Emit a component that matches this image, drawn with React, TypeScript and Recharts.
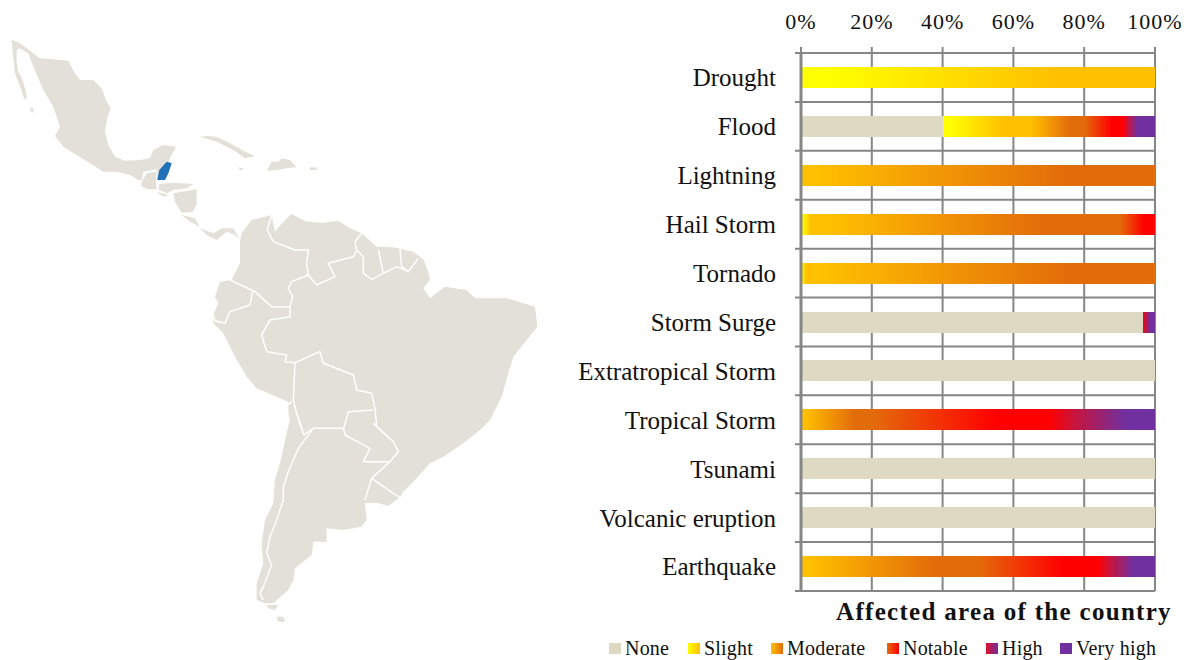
import {
  BarChart,
  Bar,
  XAxis,
  YAxis,
  CartesianGrid,
  ReferenceLine,
  Legend,
  Label,
} from "recharts";

const HAZARDS = [
  "Drought",
  "Flood",
  "Lightning",
  "Hail Storm",
  "Tornado",
  "Storm Surge",
  "Extratropical Storm",
  "Tropical Storm",
  "Tsunami",
  "Volcanic eruption",
  "Earthquake",
];

const NONE = [0, 40, 0, 0, 0, 96.5, 100, 0, 100, 100, 0];
const SLIGHT = [100, 24, 0, 4, 2, 0, 0, 0, 0, 0, 0];
const MODERATE = [0, 16, 100, 86, 98, 0, 0, 20, 0, 0, 50];
const NOTABLE = [0, 11, 0, 10, 0, 0, 0, 50, 0, 0, 34];
const HIGH = [0, 4.5, 0, 0, 0, 2.5, 0, 24, 0, 0, 11];
const VERY_HIGH = [0, 4.5, 0, 0, 0, 1, 0, 6, 0, 0, 5];

const PERCENT_TICKS = [0, 20, 40, 60, 80, 100];
const ROW_EDGES = [0, 1, 2, 3, 4, 5, 6, 7, 8, 9, 10, 11];

const data = HAZARDS.map((hazard, i) => ({
  hazard,
  edge: ROW_EDGES[i],
  none: NONE[i],
  slight: SLIGHT[i],
  moderate: MODERATE[i],
  notable: NOTABLE[i],
  high: HIGH[i],
  veryHigh: VERY_HIGH[i],
}));

const SERIF = "'Liberation Serif', serif";
const GRID = "#868686";
const LAND = "#e2e0d8";

// stops: [offset, colour]
const LEVELS: { key: string; name: string; stops: [string, string][]; swatch: string; slot: number }[] = [
  { key: "none", name: "None", stops: [["0%", "#ddd9c3"], ["100%", "#ddd9c3"]], swatch: "#ddd9c3", slot: 79 },
  {
    key: "slight",
    name: "Slight",
    stops: [["0%", "#ffff00"], ["8%", "#ffff00"], ["72%", "#ffc000"], ["100%", "#ffc000"]],
    swatch: "linear-gradient(90deg,#ffff00,#ffc000)",
    slot: 83,
  },
  {
    key: "moderate",
    name: "Moderate",
    stops: [["0%", "#ffc000"], ["5%", "#ffc000"], ["75%", "#e36c0a"], ["100%", "#e36c0a"]],
    swatch: "linear-gradient(90deg,#ffc000,#e36c0a)",
    slot: 116,
  },
  {
    key: "notable",
    name: "Notable",
    stops: [["0%", "#e36c0a"], ["70%", "#ff0000"], ["100%", "#ff0000"]],
    swatch: "linear-gradient(90deg,#e36c0a,#ff0000)",
    slot: 99,
  },
  {
    key: "high",
    name: "High",
    stops: [["0%", "#ff0000"], ["30%", "#c8143c"], ["90%", "#7030a0"], ["100%", "#7030a0"]],
    swatch: "linear-gradient(90deg,#dc1030,#7030a0)",
    slot: 74,
  },
  { key: "veryHigh", name: "Very high", stops: [["0%", "#7030a0"], ["100%", "#7030a0"]], swatch: "#7030a0", slot: 110 },
];

// map outlines, traced at 3x inside each group's transform
const MEXICO =
  "35,30 60,40 90,62 120,85 160,88 205,92 222,125 240,150 280,150 305,175 318,210 332,235 322,265 315,305 325,345 345,380 375,392 420,390 450,385 460,360 490,345 528,350 515,375 505,395 515,400 505,430 495,450 472,450 470,418 430,425 425,450 415,450 390,435 350,425 310,425 270,400 230,375 190,350 165,318 180,290 160,230 130,180 100,110 85,70 60,55 45,60";
const BAJA = "35,30 55,48 50,65 50,95 55,125 68,150 78,185 80,210 72,205 62,175 45,130 40,85";
const CENTRAL = [
  "90,232 100,235 100,248 92,245",
  "425,455 440,430 468,425 468,460 470,478 445,478 425,470",
  "478,462 520,458 580,462 560,475 520,480 502,490 475,480",
  "470,485 505,495 490,500",
  "520,490 590,478 590,520 580,545 545,548 525,515",
  "545,555 585,565 600,590 570,575",
  "600,595 640,610 665,595 700,595 720,630 705,615 680,605 650,630 620,615",
  "600,320 625,318 650,320 690,340 730,362 765,378 735,385 700,360 650,335",
  "815,395 835,395 845,385 870,390 890,412 860,415 830,420 800,422",
  "712,412 730,415 725,422",
  "930,412 950,412 950,420 930,420",
];
const BELIZE = "500,395 515,400 505,430 495,450 472,450 478,420";

const CONTINENT =
  "180,125 185,100 215,60 275,45 285,95 310,65 335,42 380,65 430,68 475,62 510,85 545,100 590,140 640,142 700,155 730,178 745,215 750,240 730,265 750,295 795,260 860,270 885,295 980,295 1065,320 1072,380 1040,420 1000,470 985,520 965,590 930,660 900,690 850,730 790,770 750,790 710,835 670,875 660,892 625,918 590,908 555,910 560,960 545,980 490,990 440,985 440,1025 400,1025 395,1065 345,1105 340,1140 325,1170 280,1210 255,1210 230,1200 230,1150 250,1090 245,1030 255,960 280,910 285,840 300,790 320,700 330,660 325,640 325,605 230,565 200,530 165,470 130,400 100,370 100,345 115,310 105,290 120,245 155,240 180,190";
const FUEGO = "110,555 145,555 135,570 115,565";
const FALKLAND = "140,590 160,590 165,605 145,605";

const BORDERS_NORTH = [
  "275,45 262,90 280,125 345,150 385,150 380,190 385,225 410,255 465,230 445,190 520,170 530,150 525,125 545,100",
  "530,150 550,170 550,220 575,238 610,220 595,150",
  "660,145 665,200 685,215 715,175",
  "610,220 650,200 685,215",
  "385,225 335,245 325,265 338,290 330,320",
  "330,320 275,320 225,275 150,240",
  "218,275 210,315 150,335 135,370 105,362 100,345",
  "330,320 330,350 270,360 245,405 260,455 320,465 315,485 345,488",
  "345,488 420,455 430,490 520,525 530,570 575,580 585,625 590,680",
  "345,488 340,600 350,640 368,690",
  "335,605 325,615",
  "580,630 505,635 490,690",
];
const BORDERS_SOUTH = [
  "205,0 222,45 250,25 340,25 345,45 420,85 400,125 480,125 505,95 490,65 430,10",
  "250,25 205,85 175,155 160,200 160,240 140,300 120,350 110,400 125,435 100,500 90,520 100,540",
  "480,125 425,175 405,240",
  "425,175 490,220 510,232",
];

function LatinAmericaMap() {
  const border = { fill: "none", stroke: "#fff", strokeWidth: 4.5, strokeLinejoin: "round" as const };
  return (
    <svg
      width={560}
      height={660}
      style={{ position: "absolute", left: 0, top: 0, filter: "blur(0.6px)" }}
    >
      <g transform="translate(0 30) scale(0.3333)">
        <polygon points={MEXICO} fill={LAND} />
        <polygon points={BAJA} fill={LAND} />
        {CENTRAL.map((p) => (
          <polygon key={p} points={p} fill={LAND} />
        ))}
        <polygon points={BELIZE} fill="#1f72b8" />
      </g>
      <g transform="translate(180 200) scale(0.3333)">
        <polygon points={CONTINENT} fill={LAND} />
        {BORDERS_NORTH.map((p) => (
          <polyline key={p} points={p} {...border} />
        ))}
      </g>
      <g transform="translate(230 420) scale(0.3333)">
        <polygon points={FUEGO} fill={LAND} />
        <polygon points={FALKLAND} fill={LAND} />
        {BORDERS_SOUTH.map((p) => (
          <polyline key={p} points={p} {...border} />
        ))}
      </g>
    </svg>
  );
}

function SeverityLegend() {
  return (
    <div style={{ display: "flex", fontFamily: SERIF, fontSize: 20, letterSpacing: 0.2, color: "#111", lineHeight: "20px" }}>
      {LEVELS.map((l) => (
        <div key={l.key} style={{ width: l.slot, display: "flex", alignItems: "center", flex: "none" }}>
          <span style={{ width: 12, height: 11, marginRight: 4, background: l.swatch, flex: "none" }} />
          <span style={{ whiteSpace: "nowrap" }}>{l.name}</span>
        </div>
      ))}
    </div>
  );
}

export default function App() {
  return (
    <div style={{ position: "absolute", left: 0, top: 0, width: 1188, height: 660, background: "#fff" }}>
      <LatinAmericaMap />
      <BarChart
        width={1188}
        height={660}
        data={data}
        layout="vertical"
        barSize={21}
        margin={{ top: 13, right: 33, bottom: 29, left: 576 }}
        style={{ position: "absolute", left: 0, top: 0 }}
      >
        <defs>
          {LEVELS.map((l) => (
            <linearGradient key={l.key} id={`level-${l.key}`} x1="0" y1="0" x2="1" y2="0">
              {l.stops.map(([offset, color]) => (
                <stop key={offset} offset={offset} stopColor={color} />
              ))}
            </linearGradient>
          ))}
        </defs>

        <CartesianGrid stroke={GRID} strokeWidth={2} horizontal={false} />

        <XAxis
          type="number"
          orientation="top"
          domain={[0, 100]}
          ticks={PERCENT_TICKS}
          tickFormatter={(v: number) => `${v}%`}
          height={40}
          tickSize={6}
          tickMargin={18}
          interval={0}
          axisLine={{ stroke: GRID, strokeWidth: 2 }}
          tickLine={{ stroke: GRID, strokeWidth: 2 }}
          tick={{ fill: "#111", fontFamily: SERIF, fontSize: 22, letterSpacing: 1 }}
        />
        <XAxis
          xAxisId="title"
          type="number"
          orientation="bottom"
          domain={[0, 100]}
          height={40}
          tick={false}
          axisLine={false}
          tickLine={false}
        >
          <Label
            value="Affected area of the country"
            position="insideTop"
            dx={26}
            offset={11}
            style={{ fill: "#111", fontFamily: SERIF, fontSize: 25, fontWeight: 700, letterSpacing: 1.3 }}
          />
        </XAxis>

        <YAxis
          type="category"
          dataKey="hazard"
          width={225}
          interval={0}
          tickLine={false}
          tickMargin={19}
          axisLine={{ stroke: GRID, strokeWidth: 3 }}
          tick={{ fill: "#111", fontFamily: SERIF, fontSize: 25 }}
        />
        <YAxis yAxisId="edges" type="number" dataKey="edge" domain={[0, 11]} hide />

        {ROW_EDGES.map((edge) => (
          <ReferenceLine
            key={edge}
            yAxisId="edges"
            ifOverflow="visible"
            segment={[
              { x: -1.7, y: edge },
              { x: 100, y: edge },
            ]}
            stroke={GRID}
            strokeWidth={2}
          />
        ))}

        <Legend
          layout="horizontal"
          align="center"
          verticalAlign="middle"
          content={<SeverityLegend />}
          wrapperStyle={{ left: 609, top: 638, width: 570, height: 20 }}
        />

        {LEVELS.map((l) => (
          <Bar
            key={l.key}
            dataKey={l.key}
            name={l.name}
            stackId="area"
            fill={`url(#level-${l.key})`}
            shapeRendering="crispEdges"
            isAnimationActive={false}
          />
        ))}
      </BarChart>
    </div>
  );
}
